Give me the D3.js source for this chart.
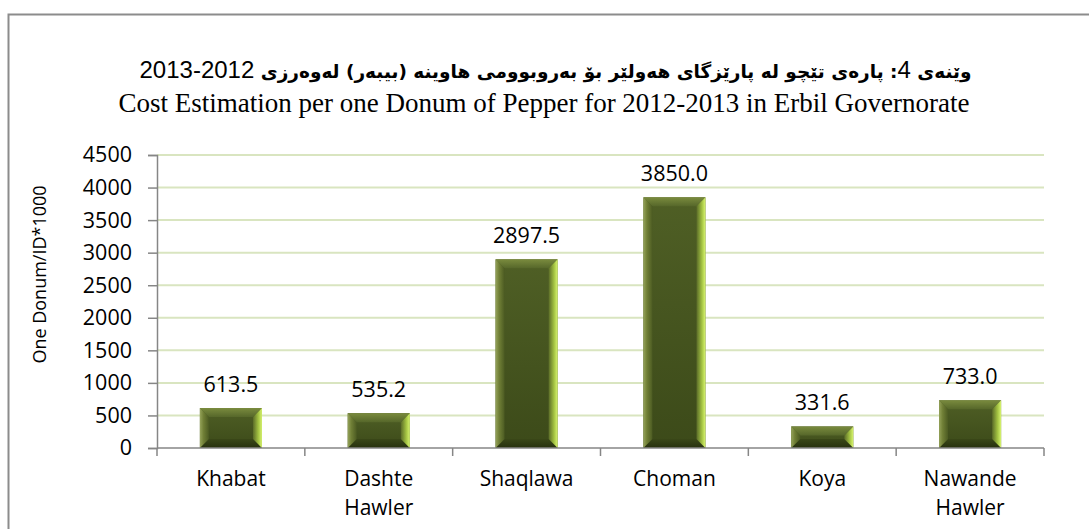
<!DOCTYPE html>
<html>
<head>
<meta charset="utf-8">
<script src="https://d3js.org/d3.v7.min.js"></script>
<style>
  body { margin: 0; background: #fff; }
  #wrap { position: relative; width: 1089px; height: 529px; overflow: hidden; }
  #chart { position: absolute; left: 0; top: 0; }
  #title1 {
    position: absolute; left: 0; top: 56px; width: 1111px; text-align: center;
    font-family: "DejaVu Sans", sans-serif; font-weight: bold; font-size: 18.5px; color: #000;
    white-space: nowrap;
  }
  #title1 .num { font-family: "Liberation Sans", Arial, sans-serif; font-weight: normal; font-size: 24px; }
</style>
</head>
<body>
<div id="wrap">
  <svg id="chart" width="1089" height="529"></svg>
  <div id="title1" dir="rtl">وێنەی <span class="num">4</span>: پارەی تێچو لە پارێزگای هەولێر بۆ بەروبوومی هاوینە (بیبەر) لەوەرزی <span class="num">2012-2013</span></div>
</div>
<script>
// chart data
var categories = ["Khabat", "Dashte Hawler", "Shaqlawa", "Choman", "Koya", "Nawande Hawler"];
var costs = [613.5, 535.2, 2897.5, 3850.0, 331.6, 733.0];
var yTicks = [0, 500, 1000, 1500, 2000, 2500, 3000, 3500, 4000, 4500];
var title2 = "Cost Estimation per one Donum of Pepper for 2012-2013 in Erbil Governorate";
var yTitle = "One Donum/ID*1000";

var svg = d3.select("#chart");

// outer frame (runs off the right and bottom edge)
svg.append("rect")
    .attr("x", 8.5).attr("y", 14.5)
    .attr("width", 1200).attr("height", 700)
    .attr("fill", "none").attr("stroke", "#8c8c8c").attr("stroke-width", 2);

var plotL = 157, plotR = 1044, plotT = 155, plotB = 448;

var x = d3.scaleBand()
    .domain(categories)
    .range([plotL, plotR])
    .paddingInner(0.58)
    .paddingOuter(0.29);

var y = d3.scaleLinear()
    .domain([0, 4500])
    .range([plotB, plotT]);

// gradients for the bevelled bars
var defs = svg.append("defs");
function grad(id, x2, y2, stops) {
    var g = defs.append("linearGradient").attr("id", id)
        .attr("x1", 0).attr("y1", 0).attr("x2", x2).attr("y2", y2);
    stops.forEach(function (s) {
        g.append("stop").attr("offset", s[0]).attr("stop-color", s[1]);
    });
}
grad("gFace", 0, 1, [[0, "#4f5f25"], [1, "#3c4a19"]]);
grad("gLeft", 1, 0, [[0, "#95a35a"], [0.4, "#707f36"], [1, "#4c5b22"]]);
grad("gRight", 1, 0, [[0, "#5a6b28"], [0.6, "#a3c242"], [1, "#d8f570"]]);
grad("gTop", 0, 1, [[0, "#7a8b3e"], [1, "#56672a"]]);
grad("gBottom", 0, 1, [[0, "#3a4718"], [1, "#27310e"]]);

// gridlines
svg.append("g")
    .selectAll("line")
    .data(yTicks.filter(function (d) { return d > 0; }))
    .join("line")
    .attr("x1", plotL).attr("x2", plotR)
    .attr("y1", function (d) { return y(d); })
    .attr("y2", function (d) { return y(d); })
    .attr("stroke", "#d9e5c0").attr("stroke-width", 2);

// bars
var bev = 9;
var bars = svg.append("g").selectAll("g")
    .data(categories)
    .join("g");

bars.each(function (c, i) {
    var g = d3.select(this);
    var x0 = x(c), x1 = x(c) + x.bandwidth();
    var y0 = y(costs[i]), y1 = y(0);
    var b = Math.min(bev, (y1 - y0) / 2);
    g.append("rect").attr("x", x0).attr("y", y0).attr("width", x1 - x0).attr("height", y1 - y0)
        .attr("fill", "url(#gFace)");
    var pts = {
        gTop: [[x0, y0], [x1, y0], [x1 - b, y0 + b], [x0 + b, y0 + b]],
        gBottom: [[x0, y1], [x1, y1], [x1 - b, y1 - b], [x0 + b, y1 - b]],
        gLeft: [[x0, y0], [x0 + b, y0 + b], [x0 + b, y1 - b], [x0, y1]],
        gRight: [[x1, y0], [x1 - b, y0 + b], [x1 - b, y1 - b], [x1, y1]]
    };
    Object.keys(pts).forEach(function (k) {
        g.append("polygon")
            .attr("points", pts[k].map(function (p) { return p.join(","); }).join(" "))
            .attr("fill", "url(#" + k + ")");
    });
});

// value labels
svg.append("g").selectAll("text")
    .data(categories)
    .join("text")
    .attr("x", function (c) { return x(c) + x.bandwidth() / 2; })
    .attr("y", function (c, i) { return y(costs[i]) - 16; })
    .attr("text-anchor", "middle")
    .attr("font-family", "Open Sans, sans-serif")
    .attr("font-size", 21.5)
    .attr("fill", "#000")
    .text(function (c, i) { return costs[i].toFixed(1); });

// y axis
var yAxis = svg.append("g")
    .attr("transform", "translate(" + plotL + ",0)")
    .call(d3.axisLeft(y).tickValues(yTicks).tickSize(9).tickPadding(16).tickFormat(d3.format("d")));
yAxis.select(".domain").attr("stroke", "#868686").attr("stroke-width", 1.5);
yAxis.selectAll(".tick line").attr("stroke", "#868686").attr("stroke-width", 1.5);
yAxis.selectAll(".tick text")
    .attr("font-family", "Open Sans, sans-serif").attr("font-size", 21.5).attr("fill", "#000");

// x axis line and category separators
var xg = svg.append("g");
xg.append("line")
    .attr("x1", plotL).attr("x2", plotR).attr("y1", y(0)).attr("y2", y(0))
    .attr("stroke", "#868686").attr("stroke-width", 1.5);
xg.selectAll(".sep")
    .data(d3.range(categories.length + 1))
    .join("line")
    .attr("x1", function (d) { return plotL + d * x.step(); })
    .attr("x2", function (d) { return plotL + d * x.step(); })
    .attr("y1", y(0)).attr("y2", y(0) + 8)
    .attr("stroke", "#868686").attr("stroke-width", 1.5);

// category labels (wrap two-word names)
xg.selectAll(".cat")
    .data(categories)
    .join("text")
    .attr("class", "cat")
    .attr("text-anchor", "middle")
    .attr("font-family", "Open Sans, sans-serif")
    .attr("font-size", 21)
    .attr("fill", "#000")
    .each(function (c) {
        var t = d3.select(this);
        c.split(" ").forEach(function (w, j) {
            t.append("tspan")
                .attr("x", x(c) + x.bandwidth() / 2)
                .attr("y", y(0) + 38 + j * 29)
                .text(w);
        });
    });

// y axis title
svg.append("text")
    .attr("transform", "translate(46," + ((plotT + plotB) / 2 - 27) + ") rotate(-90)")
    .attr("text-anchor", "middle")
    .attr("font-family", "Open Sans, sans-serif")
    .attr("font-size", 18)
    .attr("fill", "#000")
    .text(yTitle);

// english title
svg.append("text")
    .attr("x", 544).attr("y", 112)
    .attr("text-anchor", "middle")
    .attr("font-family", "Liberation Serif, Times New Roman, serif")
    .attr("font-size", 27)
    .attr("fill", "#000")
    .text(title2);
</script>
</body>
</html>
